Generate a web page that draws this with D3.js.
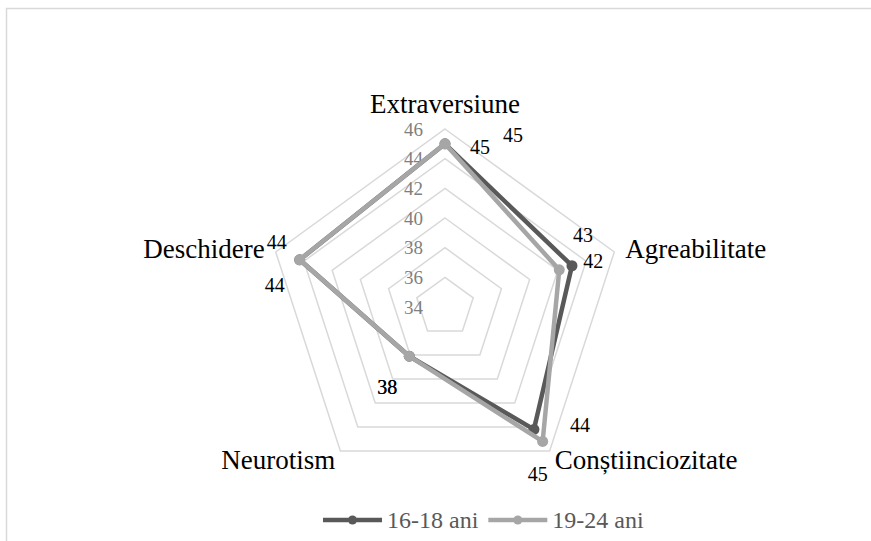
<!DOCTYPE html>
<html lang="ro">
<head>
    <meta charset="UTF-8">
    <script src="https://cdnjs.cloudflare.com/ajax/libs/d3/7.8.5/d3.min.js"></script>
    <title>Profil de personalitate</title>
    <style>
        html, body {
            margin: 0;
            padding: 0;
            background: #ffffff;
        }

        svg {
            display: block;
            font-family: "Liberation Serif", "Times New Roman", serif;
        }

        .axis-label {
            fill: #7f7f7f;
            font-size: 19px;
        }

        .category-label {
            fill: #000000;
            font-size: 27px;
        }

        .value-label {
            fill: #000000;
            font-size: 20px;
        }

        .legend-label {
            fill: #595959;
            font-size: 24px;
        }
    </style>
</head>
<body>
    <script>
        const categories = ['Extraversiune', 'Agreabilitate', 'Conștiinciozitate', 'Neurotism', 'Deschidere'];
        const seriesNames = ['16-18 ani', '19-24 ani'];
        const values1618 = [45, 43, 44.2, 38.1, 44.3];
        const values1924 = [45, 42.1, 45.2, 38.1, 44.3];
        const axisTicks = [34, 36, 38, 40, 42, 44, 46];

        const width = 871;
        const height = 541;
        const cx = 445;
        const cy = 307;
        const radius = 178;

        const colors = ['#595959', '#a6a6a6'];
        const gridColor = '#d9d9d9';

        // сдвиг подписей значений относительно точки (dx, dy)
        const labelShift = [
            [[68, -9], [11, -31], [46, -4], [-22, 31], [-23, -18]],
            [[35, 3], [34, -9], [-5, 33], [-22, 31], [-25, 25]]
        ];

        const series = [values1618, values1924].map(function(vals, i) {
            return { name: seriesNames[i], color: colors[i], values: vals };
        });

        const r = d3.scaleLinear()
            .domain([d3.min(axisTicks), d3.max(axisTicks)])
            .range([0, radius]);

        const angle = d3.scalePoint()
            .domain(categories)
            .range([0, 2 * Math.PI * (categories.length - 1) / categories.length]);

        const px = function(cat, v) { return cx + r(v) * Math.sin(angle(cat)); };
        const py = function(cat, v) { return cy - r(v) * Math.cos(angle(cat)); };

        const svg = d3.select('body')
            .append('svg')
            .attr('width', width)
            .attr('height', height);

        // рамка области диаграммы
        svg.append('rect')
            .attr('x', 6.5)
            .attr('y', 8.5)
            .attr('width', width + 20)
            .attr('height', height + 20)
            .attr('fill', '#ffffff')
            .attr('stroke', gridColor)
            .attr('stroke-width', 1.5);

        // сетка-пятиугольники
        const ring = d3.line()
            .x(function(d) { return d[0]; })
            .y(function(d) { return d[1]; })
            .curve(d3.curveLinearClosed);

        svg.append('g')
            .selectAll('path')
            .data(axisTicks.slice(1))
            .enter()
            .append('path')
            .attr('d', function(t) {
                return ring(categories.map(function(c) { return [px(c, t), py(c, t)]; }));
            })
            .attr('fill', 'none')
            .attr('stroke', gridColor)
            .attr('stroke-width', 1.5);

        // подписи шкалы
        svg.append('g')
            .selectAll('text')
            .data(axisTicks)
            .enter()
            .append('text')
            .attr('class', 'axis-label')
            .attr('x', cx - 22)
            .attr('y', function(t) { return py(categories[0], t); })
            .attr('dy', '0.35em')
            .attr('text-anchor', 'end')
            .text(function(t) { return t; });

        // подписи категорий
        const tMax = d3.max(axisTicks);
        svg.append('g')
            .selectAll('text')
            .data(categories)
            .enter()
            .append('text')
            .attr('class', 'category-label')
            .attr('x', function(c) {
                const s = Math.sin(angle(c));
                const pad = Math.abs(Math.cos(angle(c))) > 0.7 ? 5 : 11;
                return px(c, tMax) + (Math.abs(s) < 0.01 ? 0 : (s > 0 ? pad : -pad));
            })
            .attr('y', function(c) {
                const co = Math.cos(angle(c));
                if (co > 0.99) return py(c, tMax) - 16;
                if (co < -0.5) return py(c, tMax) + 18;
                return py(c, tMax) + 6;
            })
            .attr('text-anchor', function(c) {
                const s = Math.sin(angle(c));
                return Math.abs(s) < 0.01 ? 'middle' : (s > 0 ? 'start' : 'end');
            })
            .text(function(c) { return c; });

        // линии серий
        const line = d3.line()
            .x(function(d) { return px(d.cat, d.value); })
            .y(function(d) { return py(d.cat, d.value); })
            .curve(d3.curveLinearClosed);

        const groups = svg.selectAll('.series')
            .data(series)
            .enter()
            .append('g')
            .attr('class', 'series');

        groups.append('path')
            .attr('d', function(s) {
                return line(s.values.map(function(v, i) { return { cat: categories[i], value: v }; }));
            })
            .attr('fill', 'none')
            .attr('stroke', function(s) { return s.color; })
            .attr('stroke-width', 4.5)
            .attr('stroke-linejoin', 'round');

        groups.selectAll('circle')
            .data(function(s) {
                return s.values.map(function(v, i) { return { cat: categories[i], value: v, color: s.color }; });
            })
            .enter()
            .append('circle')
            .attr('cx', function(d) { return px(d.cat, d.value); })
            .attr('cy', function(d) { return py(d.cat, d.value); })
            .attr('r', 5.5)
            .attr('fill', function(d) { return d.color; });

        // подписи значений
        series.forEach(function(s, si) {
            svg.append('g')
                .selectAll('text')
                .data(s.values)
                .enter()
                .append('text')
                .attr('class', 'value-label')
                .attr('x', function(v, i) { return px(categories[i], v) + labelShift[si][i][0]; })
                .attr('y', function(v, i) { return py(categories[i], v) + labelShift[si][i][1]; })
                .attr('dy', '0.35em')
                .attr('text-anchor', 'middle')
                .text(function(v) { return d3.format('.0f')(v); });
        });

        // легенда
        const legendY = 520;
        const legend = svg.append('g').attr('class', 'legend');
        let lx = 323;
        series.forEach(function(s, i) {
            legend.append('line')
                .attr('x1', lx).attr('x2', lx + 59)
                .attr('y1', legendY).attr('y2', legendY)
                .attr('stroke', s.color)
                .attr('stroke-width', 4.5);
            legend.append('circle')
                .attr('cx', lx + 29.5)
                .attr('cy', legendY)
                .attr('r', 4.5)
                .attr('fill', s.color);
            const t = legend.append('text')
                .attr('class', 'legend-label')
                .attr('x', lx + 64)
                .attr('y', legendY)
                .attr('dy', '0.35em')
                .text(s.name);
            lx += 64 + t.node().getComputedTextLength() + 10;
        });
    </script>
</body>
</html>
